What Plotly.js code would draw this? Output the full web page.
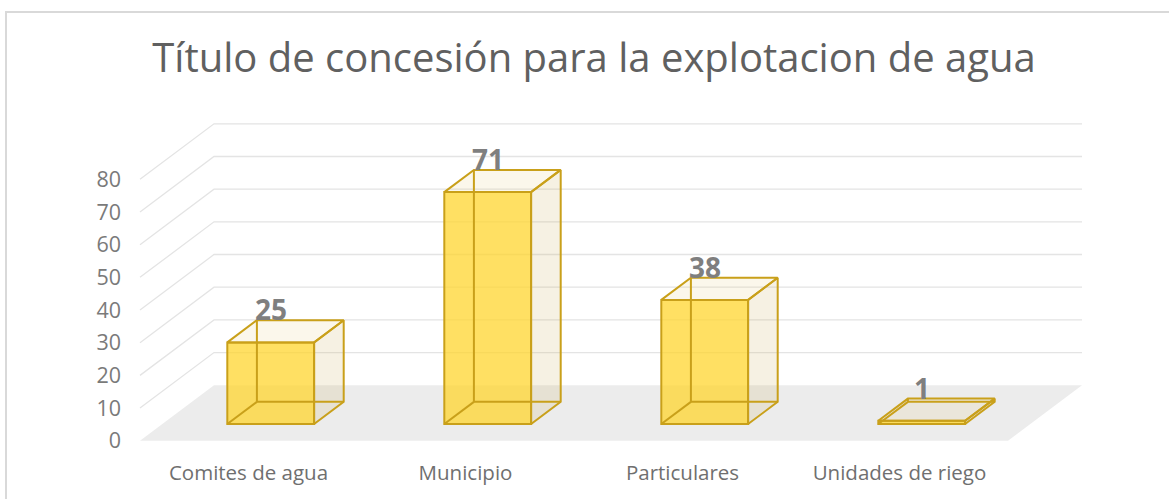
<!DOCTYPE html>
<html>
<head>
<meta charset="utf-8">
<script src="https://cdn.plot.ly/plotly-3.0.1.min.js"></script>
<style>
  html, body { margin: 0; padding: 0; background: #ffffff; }
  #wrap { position: relative; width: 1169px; height: 499px; overflow: hidden; }
  #chart { position: absolute; left: 0; top: 0; width: 1169px; height: 499px; }
  #frame { position: absolute; left: 5px; top: 11px; width: 1180px; height: 500px;
           border: 2px solid #d9d9d9; box-sizing: border-box; pointer-events: none; }
</style>
</head>
<body>
<div id="wrap">
  <div id="chart"></div>
  <div id="frame"></div>
</div>
<script>
// ---- data ----
const chartTitle = "Título de concesión para la explotacion de agua";
const categories = ["Comites de agua", "Municipio", "Particulares", "Unidades de riego"];
const values = [25, 71, 38, 1];
const yTicks = [0, 10, 20, 30, 40, 50, 60, 70, 80];

// ---- geometry (pixel layout of the pseudo-3D box) ----
const W = 1169, H = 499;
const X0 = 140, Y0 = 440.7;      // front-left corner of floor (px)
const CW = 217;                  // px per category
const UH = 3.267;                // px per value unit
const DXpx = 74, DYpx = 55.5;    // full depth vector (px)
const M = { l: 124, r: 20, t: 100, b: 44 };

const xr = [(M.l - X0) / CW, (W - M.r - X0) / CW];
const yr = [(Y0 - (H - M.b)) / UH, (Y0 - M.t) / UH];
const dX = DXpx / CW, dY = DYpx / UH;   // full depth in data units
const f0 = 0.3, f1 = 0.7;               // bar depth span
const bw = 0.4;                          // bar width (category units)
const bdx = (f1 - f0) * dX, bdy = (f1 - f0) * dY;

const gold = "#C9A01A";
const nCat = categories.length;

// floor + gridlines as shapes below the traces
const shapes = [];
const P = (x, y) => x + "," + y;
shapes.push({
  type: "path", xref: "x", yref: "y", layer: "below",
  path: "M" + P(0, 0) + " L" + P(nCat, 0) + " L" + P(nCat + dX, dY) + " L" + P(dX, dY) + " Z",
  fillcolor: "#ececec", line: { width: 0 }
});
yTicks.forEach(v => {
  if (v === 0) return;
  shapes.push({
    type: "path", xref: "x", yref: "y", layer: "below",
    path: "M" + P(0, v) + " L" + P(dX, v + dY) + " L" + P(nCat + dX, v + dY),
    line: { color: "#e4e4e4", width: 1.3 }
  });
});

const traces = [];
const cx = categories.map((c, i) => i + 0.5 + f0 * dX);

// front faces: real bar trace
traces.push({
  type: "bar",
  x: cx,
  y: values,
  base: values.map(() => f0 * dY),
  width: values.map(() => bw),
  marker: { color: "rgba(255,213,45,0.74)", line: { color: gold, width: 2 } },
  hoverinfo: "skip",
  showlegend: false
});

// top faces, side faces and hidden edges
const topX = [], topY = [], sideX = [], sideY = [], hidX = [], hidY = [];
values.forEach((v, i) => {
  const x1 = cx[i] - bw / 2, x2 = cx[i] + bw / 2;
  const yB = f0 * dY, yT = f0 * dY + v;
  topX.push(x1, x2, x2 + bdx, x1 + bdx, x1, null);
  topY.push(yT, yT, yT + bdy, yT + bdy, yT, null);
  sideX.push(x2, x2, x2 + bdx, x2 + bdx, x2, null);
  sideY.push(yB, yT, yT + bdy, yB + bdy, yB, null);
  hidX.push(x1 + bdx, x1 + bdx, null, x1 + bdx, x2 + bdx, null, x1 + bdx, x1, null);
  hidY.push(yB + bdy, yT + bdy, null, yB + bdy, yB + bdy, null, yB + bdy, yB, null);
});
traces.push({
  type: "scatter", mode: "lines", x: sideX, y: sideY, fill: "toself",
  fillcolor: "rgba(205,180,100,0.18)", line: { color: gold, width: 2 },
  hoverinfo: "skip", showlegend: false
});
traces.push({
  type: "scatter", mode: "lines", x: topX, y: topY, fill: "toself",
  fillcolor: "rgba(225,195,110,0.14)", line: { color: gold, width: 2 },
  hoverinfo: "skip", showlegend: false
});
traces.push({
  type: "scatter", mode: "lines", x: hidX, y: hidY,
  line: { color: gold, width: 2 }, hoverinfo: "skip", showlegend: false
});

// data labels
const annotations = values.map((v, i) => ({
  x: cx[i], y: f0 * dY + v + bdy, xref: "x", yref: "y",
  text: String(v), showarrow: false, yanchor: "bottom", yshift: -10,
  font: { family: "Open Sans", size: 28, color: "#7f7f7f", weight: "bold" }
}));

const layout = {
  width: W, height: H, autosize: false,
  margin: M,
  paper_bgcolor: "rgba(0,0,0,0)", plot_bgcolor: "rgba(0,0,0,0)",
  showlegend: false,
  title: {
    text: chartTitle,
    font: { family: "Open Sans", size: 40, color: "#606060" },
    xref: "container", yref: "container",
    x: 594 / W, xanchor: "center", y: 1 - 58 / H, yanchor: "middle"
  },
  xaxis: {
    range: xr, fixedrange: true, automargin: false,
    tickmode: "array", tickvals: categories.map((c, i) => i + 0.5), ticktext: categories,
    showgrid: false, zeroline: false, showline: false, ticks: "", ticklabelstandoff: 3,
    tickfont: { family: "Open Sans", size: 20.5, color: "#6f6f6f" }
  },
  yaxis: {
    range: yr, fixedrange: true, automargin: false,
    tickmode: "array", tickvals: yTicks,
    showgrid: false, zeroline: false, showline: false, ticks: "", ticklabelstandoff: 2,
    tickfont: { family: "Open Sans", size: 21.5, color: "#7a7a7a" }
  },
  shapes: shapes,
  annotations: annotations
};

Plotly.newPlot("chart", traces, layout, { displayModeBar: false, staticPlot: true });
</script>
</body>
</html>
